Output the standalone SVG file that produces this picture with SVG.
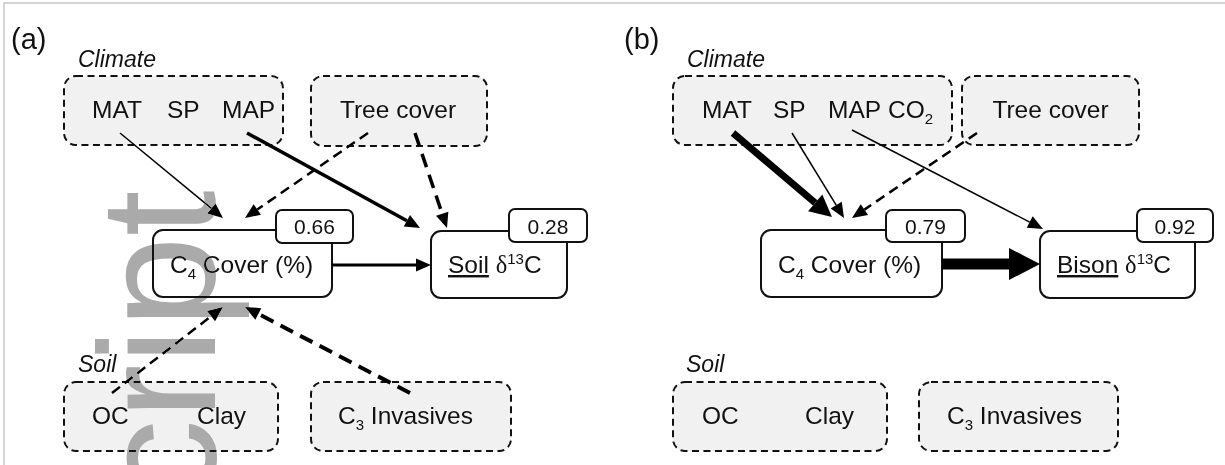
<svg xmlns="http://www.w3.org/2000/svg" width="1225" height="465" viewBox="0 0 1225 465">
<style>
text{font-family:"Liberation Sans",Arial,sans-serif;fill:#111;}
.lbl{font-size:24.5px;}
.grp{font-size:23px;font-style:italic;}
.pan{font-size:29px;}
.num{font-size:21px;}
.sub{font-size:15px;}
.dbox{fill:#f1f1f1;stroke:#111;stroke-width:2;stroke-dasharray:7 4.5;}
.sbox{fill:#fff;stroke:#111;stroke-width:2;}
.c{fill:none;stroke:#000;}
.dl{stroke-dasharray:10 6;}
.dt{stroke-dasharray:14 8;}
.ser{font-family:"Liberation Serif","Times New Roman",serif;}
</style>
<defs>
<marker id="ah" markerUnits="userSpaceOnUse" viewBox="0 -8 17 16" markerWidth="17" markerHeight="16" refX="0" refY="0" orient="auto" overflow="visible"><path d="M0,-6.5 L15,0 L0,6.5 z" fill="#000"/></marker>
<marker id="ahb" markerUnits="userSpaceOnUse" viewBox="0 -12 24 24" markerWidth="24" markerHeight="24" refX="0" refY="0" orient="auto" overflow="visible"><path d="M0,-11 L22,0 L0,11 z" fill="#000"/></marker>
<marker id="ahh" markerUnits="userSpaceOnUse" viewBox="0 -17 33 34" markerWidth="33" markerHeight="34" refX="0" refY="0" orient="auto" overflow="visible"><path d="M0,-16 L31,0 L0,16 z" fill="#000"/></marker>
</defs>
<rect x="4" y="3" width="1240" height="480" fill="#fff" stroke="#c8c8c8" stroke-width="1.5"/>

<!-- Panel a -->
<text class="pan" x="11" y="49">(a)</text>
<g id="a-climate">
<text class="grp" x="78" y="67">Climate</text>
<rect class="dbox" x="64" y="76" width="219" height="69" rx="12"/>
<text class="lbl" x="92" y="118">MAT</text>
<text class="lbl" x="167" y="118">SP</text>
<text class="lbl" x="222" y="118">MAP</text>
</g>
<g id="a-tree">
<rect class="dbox" x="311" y="76" width="176" height="70" rx="12"/>
<text class="lbl" x="398" y="118" text-anchor="middle">Tree cover</text>
</g>
<g id="a-soil">
<text class="grp" x="78" y="372">Soil</text>
<rect class="dbox" x="64" y="382" width="214" height="69" rx="12"/>
<text class="lbl" x="92" y="424">OC</text>
<text class="lbl" x="197" y="424">Clay</text>
</g>
<g id="a-invasives">
<rect class="dbox" x="311" y="382" width="200" height="69" rx="12"/>
<text class="lbl" x="338" y="424">C<tspan class="sub" dy="6">3</tspan><tspan dy="-6"> Invasives</tspan></text>
</g>
<g id="a-c4">
<rect class="sbox" x="153" y="230" width="179" height="67" rx="10"/>
<rect class="sbox" x="276" y="210" width="77" height="33" rx="6"/>
<text class="num" x="314.5" y="234" text-anchor="middle">0.66</text>
<text class="lbl" x="170" y="273">C<tspan class="sub" dy="6">4</tspan><tspan dy="-6"> Cover (%)</tspan></text>
</g>
<g id="a-soild13c">
<rect class="sbox" x="431" y="231" width="136" height="67" rx="10"/>
<rect class="sbox" x="509" y="209" width="78" height="33" rx="6"/>
<text class="num" x="548" y="234" text-anchor="middle">0.28</text>
<text class="lbl" x="448" y="273"><tspan text-decoration="underline">Soil</tspan> <tspan class="ser">δ</tspan><tspan class="sub" dy="-9">13</tspan><tspan dy="9">C</tspan></text>
</g>

<!-- Panel b -->
<text class="pan" x="624" y="49">(b)</text>
<g id="b-climate">
<text class="grp" x="687" y="67">Climate</text>
<rect class="dbox" x="673" y="76" width="279" height="69" rx="12"/>
<text class="lbl" x="702" y="118">MAT</text>
<text class="lbl" x="773" y="118">SP</text>
<text class="lbl" x="828" y="118">MAP</text>
<text class="lbl" x="888" y="118">CO<tspan class="sub" dy="6">2</tspan></text>
</g>
<g id="b-tree">
<rect class="dbox" x="962" y="76" width="177" height="69" rx="12"/>
<text class="lbl" x="1050.5" y="118" text-anchor="middle">Tree cover</text>
</g>
<g id="b-soil">
<text class="grp" x="686" y="372">Soil</text>
<rect class="dbox" x="673" y="382" width="214" height="69" rx="12"/>
<text class="lbl" x="702" y="424">OC</text>
<text class="lbl" x="805" y="424">Clay</text>
</g>
<g id="b-invasives">
<rect class="dbox" x="919" y="382" width="199" height="69" rx="12"/>
<text class="lbl" x="947" y="424">C<tspan class="sub" dy="6">3</tspan><tspan dy="-6"> Invasives</tspan></text>
</g>
<g id="b-c4">
<rect class="sbox" x="761" y="230" width="181" height="67" rx="10"/>
<rect class="sbox" x="886" y="210" width="79" height="32" rx="6"/>
<text class="num" x="925.5" y="234" text-anchor="middle">0.79</text>
<text class="lbl" x="778" y="273">C<tspan class="sub" dy="6">4</tspan><tspan dy="-6"> Cover (%)</tspan></text>
</g>
<g id="b-bison">
<rect class="sbox" x="1040" y="231" width="155" height="67" rx="10"/>
<rect class="sbox" x="1137" y="209" width="76" height="33" rx="6"/>
<text class="num" x="1175" y="234" text-anchor="middle">0.92</text>
<text class="lbl" x="1057" y="273"><tspan text-decoration="underline">Bison</tspan> <tspan class="ser">δ</tspan><tspan class="sub" dy="-9">13</tspan><tspan dy="9">C</tspan></text>
</g>

<g id="connectors">
<line class="c" x1="120" y1="133" x2="211.4" y2="208.4" stroke-width="1.5" marker-end="url(#ah)"/>
<line class="c dl" x1="368" y1="133" x2="257.3" y2="209.5" stroke-width="2.5" marker-end="url(#ah)"/>
<line class="c" x1="247" y1="133" x2="406.9" y2="220.8" stroke-width="3.5" marker-end="url(#ah)"/>
<line class="c dt" x1="415" y1="133" x2="442.2" y2="213.8" stroke-width="3.5" marker-end="url(#ah)"/>
<line class="c dl" x1="112" y1="393" x2="211.1" y2="316.2" stroke-width="2.5" marker-end="url(#ah)"/>
<line class="c dt" x1="410" y1="393" x2="258.3" y2="313.9" stroke-width="4" marker-end="url(#ah)"/>
<line class="c" x1="332" y1="265" x2="416" y2="265" stroke-width="3" marker-end="url(#ah)"/>

<line class="c" x1="733" y1="133" x2="815.2" y2="202.8" stroke-width="7" marker-end="url(#ahb)"/>
<line class="c" x1="792" y1="133" x2="836.2" y2="205.2" stroke-width="1.5" marker-end="url(#ah)"/>
<line class="c dl" x1="977" y1="133" x2="864.4" y2="209.6" stroke-width="2.5" marker-end="url(#ah)"/>
<line class="c" x1="852" y1="130" x2="1029.7" y2="222.1" stroke-width="1.5" marker-end="url(#ah)"/>
<line class="c" x1="942" y1="264" x2="1009" y2="264" stroke-width="11" marker-end="url(#ahh)"/>
</g>

<text x="0" y="0" transform="translate(215,502) rotate(-90)" style="font-family:'Liberation Sans',Arial,sans-serif;font-size:165px;fill:#aaaaaa;mix-blend-mode:darken">cript</text>
</svg>
